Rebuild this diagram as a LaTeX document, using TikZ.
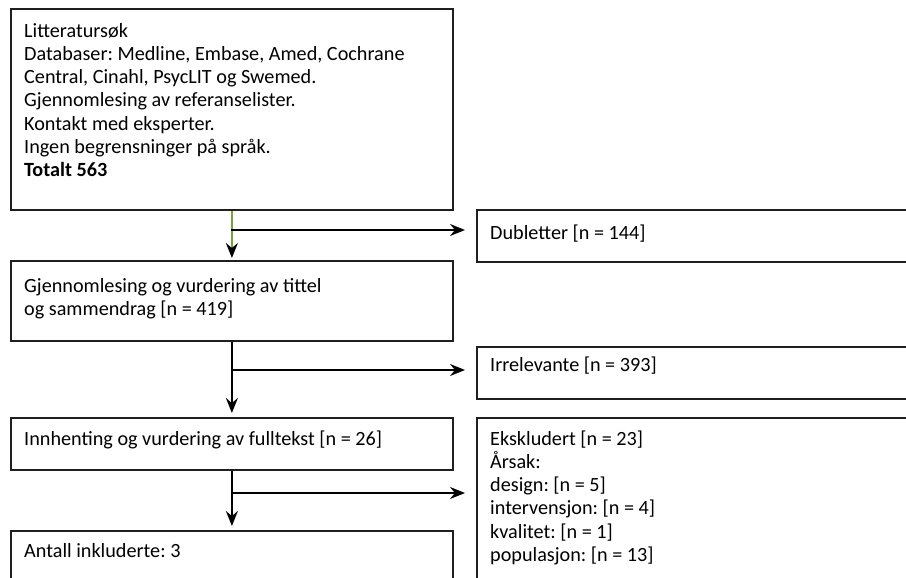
\documentclass[tikz,border=0pt]{standalone}
\usepackage{fontspec}
\setmainfont{Carlito}
\usetikzlibrary{arrows.meta}
\definecolor{linegreen}{RGB}{122,160,58}
\frenchspacing
\begin{document}
\begin{tikzpicture}[x=1pt,y=-1pt,
  box/.style={draw=black!88, line width=1.8pt, rectangle, inner sep=0pt, anchor=north west},
  txt/.style={anchor=base west, inner sep=0pt, align=left, font=\fontsize{20.2}{23.3}\selectfont},
  conn/.style={line width=1.8pt, -{Stealth[length=15pt,width=12pt,inset=5pt,color=black]}},
]
\useasboundingbox (0,0) rectangle (906,578);
\clip (0,0) rectangle (906,578);
\fill[white] (0,0) rectangle (906,578);

% left boxes
\node[box, minimum width=442pt, minimum height=201pt] (b1) at (10,8) {};
\node[box, minimum width=442pt, minimum height=80pt] (b2) at (10,260) {};
\node[box, minimum width=442pt, minimum height=52pt] (b3) at (10,417) {};
\node[box, minimum width=442pt, minimum height=90pt] (b4) at (10,530) {};
% right boxes
\node[box, minimum width=460pt, minimum height=52pt] (r1) at (476,209) {};
\node[box, minimum width=460pt, minimum height=52pt] (r2) at (476,346) {};
\node[box, minimum width=460pt, minimum height=190pt] (r3) at (476,417) {};

% texts (anchored at the baseline of the last line)
\node[txt] (t1) at (24,176.8) {Litteratursøk\\Databaser: Medline, Embase, Amed, Cochrane\\Central, Cinahl, PsycLIT og Swemed.\\Gjennomlesing av referanselister.\\Kontakt med eksperter.\\Ingen begrensninger på språk.\\\textbf{Totalt 563}};
\node[txt] (t2) at (24,315.3) {Gjennomlesing og vurdering av tittel\\og sammendrag [n = 419]};
\node[txt] (t3) at (24,445) {Innhenting og vurdering av fulltekst [n = 26]};
\node[txt] (t4) at (24,557) {Antall inkluderte: 3};
\node[txt] (u1) at (490,239) {Dubletter [n = 144]};
\node[txt] (u2) at (490,371) {Irrelevante [n = 393]};
\node[txt] (u3) at (490,561.5) {Ekskludert [n = 23]\\Årsak:\\design: [n = 5]\\intervensjon: [n = 4]\\kvalitet: [n = 1]\\populasjon: [n = 13]};

% junctions
\coordinate (j1) at (231,230);
\coordinate (j2) at (231,370);
\coordinate (j3) at (231,493);

% connectors
\draw[conn, draw=linegreen, shorten >=2pt] (b1.south) -- (b2.north);
\draw[conn, shorten >=11pt] (j1) -- (j1 -| r1.west);
\draw[conn, shorten >=4pt] (b2.south) -- (b3.north);
\draw[conn, shorten >=11pt] (j2) -- (j2 -| r2.west);
\draw[conn, shorten >=4pt] (b3.south) -- (b4.north);
\draw[conn, shorten >=11pt] (j3) -- (j3 -| r3.west);
\end{tikzpicture}
\end{document}
